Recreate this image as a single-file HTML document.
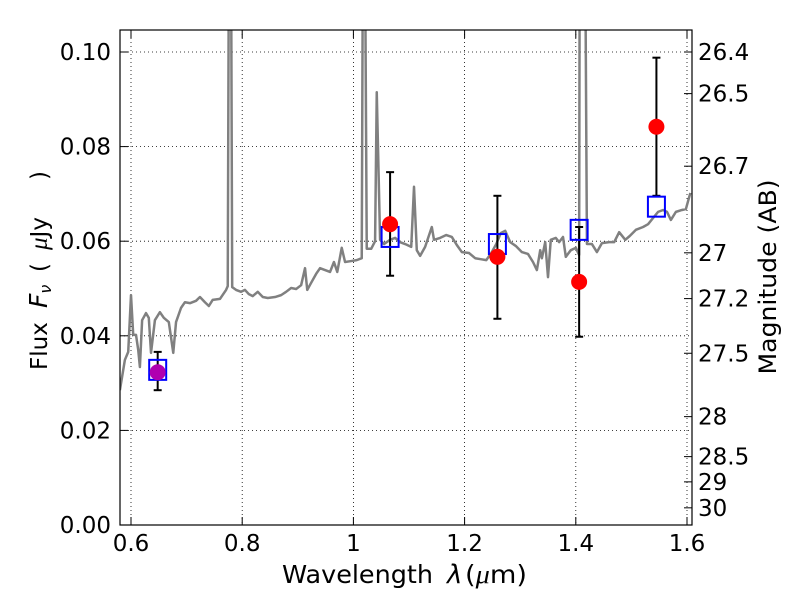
<!DOCTYPE html>
<html><head><meta charset="utf-8"><style>
html,body{margin:0;padding:0;background:#fff;width:800px;height:600px;overflow:hidden}
svg text{font-family:"DejaVu Sans","Liberation Sans",sans-serif;fill:#000}
</style></head><body>
<svg id="chart" width="800" height="600" viewBox="0 0 800 600" xmlns="http://www.w3.org/2000/svg">
<defs><clipPath id="clip"><rect x="120" y="30" width="572" height="495"/></clipPath></defs>
<rect width="800" height="600" fill="#fff"/>
<g id="grid"></g>
<g id="spec" clip-path="url(#clip)"></g>
<g id="marks" clip-path="url(#clip)"></g>
<rect x="120" y="30" width="572" height="495" fill="none" stroke="#000" stroke-width="1.2"/>
<g id="axes"></g>
<g font-size="25">
<text x="282" y="583" textLength="151" lengthAdjust="spacingAndGlyphs">Wavelength</text>
<text x="447" y="583" font-family="Liberation Serif" font-style="italic" font-size="26">λ</text>
<text x="465" y="583" textLength="62" lengthAdjust="spacingAndGlyphs">(<tspan font-family="Liberation Serif" font-style="italic" font-size="26">μ</tspan>m)</text>
</g>
<g transform="translate(47,370) rotate(-90)" font-size="23">
<text x="0" y="0">Flux</text>
<text x="62" y="0" font-family="Liberation Serif" font-style="italic" font-size="25">F<tspan font-size="16" dy="4">ν</tspan></text>
<text x="98" y="0">(</text>
<text x="120" y="0"><tspan font-family="Liberation Serif" font-style="italic" font-size="25">μ</tspan>Jy</text>
<text x="190" y="0">)</text>
</g>
<text transform="translate(776,277) rotate(-90)" font-size="24" text-anchor="middle" textLength="195" lengthAdjust="spacingAndGlyphs">Magnitude (AB)</text>
</svg>
<script>
const specLam=[0.580,0.589,0.595,0.600,0.604,0.609,0.613,0.616,0.620,0.627,0.632,0.636,0.643,0.652,0.659,0.668,0.676,0.681,0.690,0.697,0.706,0.717,0.724,0.733,0.740,0.747,0.760,0.771,0.774,0.776,0.780,0.782,0.789,0.798,0.805,0.812,0.819,0.828,0.837,0.846,0.859,0.870,0.879,0.888,0.897,0.906,0.913,0.917,0.924,0.933,0.940,0.949,0.958,0.965,0.971,0.979,0.985,0.996,1.006,1.015,1.017,1.021,1.024,1.032,1.039,1.042,1.048,1.055,1.066,1.075,1.084,1.093,1.104,1.109,1.114,1.120,1.129,1.141,1.145,1.156,1.167,1.177,1.186,1.195,1.208,1.219,1.229,1.239,1.248,1.257,1.265,1.273,1.282,1.292,1.303,1.314,1.323,1.330,1.336,1.339,1.345,1.350,1.355,1.364,1.370,1.377,1.382,1.391,1.400,1.406,1.407,1.417,1.420,1.429,1.438,1.447,1.460,1.469,1.478,1.489,1.497,1.508,1.521,1.530,1.539,1.548,1.557,1.564,1.571,1.580,1.591,1.598,1.606];
const specFlux=[0.0285,0.0349,0.0366,0.0486,0.0402,0.0402,0.0370,0.0334,0.0433,0.0448,0.0438,0.0364,0.0433,0.0450,0.0438,0.0429,0.0364,0.0429,0.0459,0.0471,0.0469,0.0474,0.0482,0.0471,0.0463,0.0476,0.0478,0.0497,0.0505,0.12,0.12,0.0503,0.0497,0.0493,0.0497,0.0488,0.0484,0.0493,0.0482,0.0480,0.0482,0.0486,0.0493,0.0501,0.0499,0.0507,0.0543,0.0497,0.0512,0.0531,0.0543,0.0539,0.0535,0.0556,0.0535,0.0586,0.0556,0.0558,0.0560,0.0564,0.12,0.12,0.0584,0.0584,0.0600,0.0915,0.0603,0.0594,0.0603,0.0607,0.0598,0.0594,0.0588,0.0715,0.0581,0.0569,0.0588,0.0630,0.0603,0.0607,0.0613,0.0609,0.0592,0.0577,0.0575,0.0564,0.0562,0.0560,0.0575,0.0594,0.0617,0.0622,0.0598,0.0590,0.0577,0.0573,0.0556,0.0539,0.0581,0.0564,0.0598,0.0524,0.0603,0.0607,0.0598,0.0609,0.0567,0.0581,0.0586,0.0571,0.12,0.12,0.0594,0.0594,0.0577,0.0596,0.0598,0.0598,0.0619,0.0603,0.0611,0.0624,0.0630,0.0636,0.0649,0.0662,0.0666,0.0662,0.0645,0.0662,0.0666,0.0668,0.0702];
const obsLam=[0.648,1.066,1.259,1.406,1.545];
const obsFlux=[0.0323,0.0636,0.0567,0.0514,0.0842];
const obsHi=[0.0366,0.0746,0.0696,0.0630,0.0988];
const obsLo=[0.0285,0.0527,0.0436,0.0398,0.0696];
const modelFlux=[0.0328,0.0609,0.0594,0.0624,0.0673];
const xTicks=[0.6,0.8,1.0,1.2,1.4,1.6];
const xTickLabels=["0.6","0.8","1","1.2","1.4","1.6"];
const yTicks=[0,0.02,0.04,0.06,0.08,0.10];
const yTickLabels=["0.00","0.02","0.04","0.06","0.08","0.10"];
const magTicks=[26.4,26.5,26.7,27,27.2,27.5,28,28.5,29,30];
const magTickLabels=["26.4","26.5","26.7","27","27.2","27.5","28","28.5","29","30"];

const NS="http://www.w3.org/2000/svg";
const X=l=>131+(l-0.6)*556;
const Y=f=>525-f*4730;
const magToFlux=m=>Math.pow(10,(23.9-m)/2.5);
function mk(tag,attrs,parent){const e=document.createElementNS(NS,tag);for(const k in attrs)e.setAttribute(k,attrs[k]);parent.appendChild(e);return e;}
const grid=document.getElementById('grid'),axes=document.getElementById('axes'),spec=document.getElementById('spec'),marks=document.getElementById('marks');
const FS=23;
xTicks.forEach((t,i)=>{
  const gl=mk('line',{x1:X(t),x2:X(t),y1:30,y2:525,stroke:'#000','stroke-width':0.8,'stroke-dasharray':'1,3'},grid);
  
  
  mk('line',{x1:X(t),x2:X(t),y1:525,y2:517,stroke:'#000'},axes);
  mk('line',{x1:X(t),x2:X(t),y1:30,y2:38,stroke:'#000'},axes);
  const tx=mk('text',{x:X(t),y:551,'font-size':FS,'text-anchor':'middle'},axes);
  
  
  tx.textContent=xTickLabels[i];
});
yTicks.forEach((t,i)=>{
  if(t>0){
    const gl=mk('line',{x1:120,x2:692,y1:Y(t),y2:Y(t),stroke:'#000','stroke-width':0.8,'stroke-dasharray':'1,3'},grid);
    
    
  }
  mk('line',{x1:120,x2:128,y1:Y(t),y2:Y(t),stroke:'#000'},axes);
  const tx=mk('text',{x:111,y:Y(t)+8,'font-size':FS,'text-anchor':'end'},axes);
  
  
  tx.textContent=yTickLabels[i];
});
magTicks.forEach((m,i)=>{
  const y=Y(magToFlux(m));
  mk('line',{x1:684,x2:692,y1:y,y2:y,stroke:'#000'},axes);
  const tx=mk('text',{x:698,y:y+8,'font-size':FS},axes);
  
  
  tx.textContent=magTickLabels[i];
});

const pl=mk('polyline',{points:specLam.map((l,i)=>X(l)+','+Y(specFlux[i])).join(' '),fill:'none',stroke:'#808080','stroke-width':2.5,'stroke-linejoin':'round'},spec);



obsLam.forEach((l,i)=>{
  const x=X(l);
  const eb=mk('g',{stroke:'#000','stroke-width':2},marks);
  
  
  mk('line',{x1:x,x2:x,y1:Y(obsHi[i]),y2:Y(obsLo[i])},eb);
  mk('line',{x1:x-4,x2:x+4,y1:Y(obsHi[i]),y2:Y(obsHi[i])},eb);
  mk('line',{x1:x-4,x2:x+4,y1:Y(obsLo[i]),y2:Y(obsLo[i])},eb);
  const sq=mk('rect',{x:x-8.5,y:Y(modelFlux[i])-10,width:17,height:20,fill:'none',stroke:'#0000ff','stroke-width':2},marks);
  
  
  const c=mk('circle',{cx:x,cy:Y(obsFlux[i]),r:8,fill:i===0?'#b000b0':'#ff0000'},marks);
  
  
});
</script>
</body></html>
